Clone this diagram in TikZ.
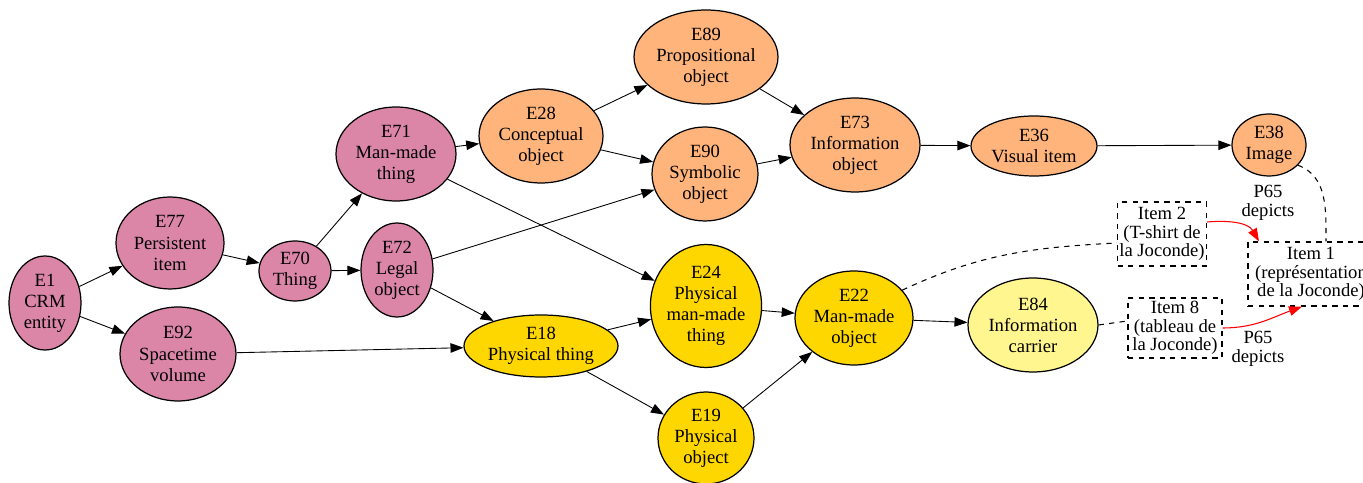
\documentclass[tikz,border=0pt]{standalone}
\usepackage{fontspec}
\setmainfont{Liberation Serif}
\usetikzlibrary{shapes.geometric,arrows.meta}
\definecolor{crmpink}{HTML}{DB86A7}
\definecolor{crmorange}{HTML}{FFB47C}
\definecolor{crmgold}{HTML}{FFD700}
\definecolor{crmyellow}{HTML}{FFF68F}
\begin{document}
\begin{tikzpicture}[x=0.02cm,y=0.02cm,
    ent/.style={ellipse,draw,line width=0.7pt,inner sep=0pt,align=center,
      font=\fontsize{10.6}{12}\selectfont},
    pinkent/.style={ent,fill=crmpink},
    orangeent/.style={ent,fill=crmorange},
    goldent/.style={ent,fill=crmgold},
    yellowent/.style={ent,fill=crmyellow},
    itembox/.style={draw,dashed,line width=0.7pt,inner xsep=1pt,inner ysep=2pt,align=center,
      font=\fontsize{10.6}{10.4}\selectfont},
    lbl/.style={align=center,font=\fontsize{10.6}{11}\selectfont},
    isa/.style={-{Triangle[length=0.26cm,width=0.19cm]},line width=0.5pt},
    depicts/.style={red,-{Triangle[length=0.26cm,width=0.19cm]},line width=0.6pt},
    link/.style={dashed,line width=0.6pt}]
{
    \useasboundingbox (0,0) rectangle (1363,483);

    \node[pinkent,minimum width=1.44cm,minimum height=1.88cm] (E1) at (45,180) {E1\\CRM\\entity};
    \node[pinkent,minimum width=2.16cm,minimum height=1.84cm] (E77) at (170,240) {E77\\Persistent\\item};
    \node[pinkent,minimum width=2.32cm,minimum height=1.88cm] (E92) at (178,129) {E92\\Spacetime\\volume};
    \node[pinkent,minimum width=1.44cm,minimum height=1.2cm] (E70) at (295,212) {E70\\Thing};
    \node[pinkent,minimum width=1.44cm,minimum height=1.88cm] (E72) at (397,213) {E72\\Legal\\object};
    \node[pinkent,minimum width=2.4cm,minimum height=1.88cm] (E71) at (396,329) {E71\\Man-made\\thing};

    \node[orangeent,minimum width=2.48cm,minimum height=1.88cm] (E28) at (541,347) {E28\\Conceptual\\object};
    \node[orangeent,minimum width=2.88cm,minimum height=1.88cm] (E89) at (706,426) {E89\\Propositional\\object};
    \node[orangeent,minimum width=2.12cm,minimum height=1.88cm] (E90) at (705,309) {E90\\Symbolic\\object};
    \node[orangeent,minimum width=2.6cm,minimum height=1.88cm] (E73) at (855,338) {E73\\Information\\object};
    \node[orangeent,minimum width=2.52cm,minimum height=1.2cm] (E36) at (1034,337) {E36\\Visual item};
    \node[orangeent,minimum width=1.48cm,minimum height=1.24cm] (E38) at (1269,338) {E38\\Image};

    \node[goldent,minimum width=3.08cm,minimum height=1.24cm] (E18) at (541,137) {E18\\Physical thing};
    \node[goldent,minimum width=2.16cm,minimum height=2.46cm] (E24) at (706,177) {E24\\Physical\\man-made\\thing};
    \node[goldent,minimum width=1.92cm,minimum height=1.84cm] (E19) at (706,45) {E19\\Physical\\object};
    \node[goldent,minimum width=2.36cm,minimum height=1.88cm] (E22) at (854,165) {E22\\Man-made\\object};
    \node[yellowent,minimum width=2.6cm,minimum height=1.88cm] (E84) at (1033,158) {E84\\Information\\carrier};

    \node[itembox,minimum width=1.74cm,minimum height=1.28cm] (Item2) at (1162,249) {Item 2\\(T-shirt de\\la Joconde)};
    \node[itembox,minimum width=2.52cm,minimum height=1.28cm] (Item1) at (1311,209) {Item 1\\(représentation\\de la Joconde)};
    \node[itembox,minimum width=1.88cm,minimum height=1.14cm] (Item8) at (1175,155) {Item 8\\(tableau de\\la Joconde)};
    \node[lbl] (lbltop) at (1268,280) {P65\\depicts};
    \node[lbl] (lblbot) at (1258,134) {P65\\depicts};

    \draw[isa] (E1) -- (E77);
    \draw[isa] (E1) -- (E92);
    \draw[isa] (E77) -- (E70);
    \draw[isa] (E70) -- (E71);
    \draw[isa] (E70) -- (E72);
    \draw[isa] (E71) -- (E28);
    \draw[isa] (E71) -- (E24);
    \draw[isa] (E72) -- (E90);
    \draw[isa] (E72) -- (E18);
    \draw[isa] (E92) -- (E18);
    \draw[isa] (E28) -- (E89);
    \draw[isa] (E28) -- (E90);
    \draw[isa] (E89) -- (E73);
    \draw[isa] (E90) -- (E73);
    \draw[isa] (E73) -- (E36);
    \draw[isa] (E36) -- (E38);
    \draw[isa] (E18) -- (E24);
    \draw[isa] (E18) -- (E19);
    \draw[isa] (E24) -- (E22);
    \draw[isa] (E19) -- (E22);
    \draw[isa] (E22) -- (E84);

    \draw[link] (E38.-35) to[out=-20,in=90] ([xshift=0.3cm]Item1.north);
    \draw[link] (E22.30) to[out=25,in=183] ([yshift=-0.18cm]Item2.west);
    \draw[link] (E84.east) -- ([yshift=0.14cm]Item8.west);

    \draw[depicts] ([yshift=0.24cm]Item2.east) to[out=5,in=120] ([xshift=-1.04cm]Item1.north);
    \draw[depicts] (Item8.east) to[out=0,in=200] ([xshift=-0.18cm]Item1.south);
}
\end{tikzpicture}
\end{document}
